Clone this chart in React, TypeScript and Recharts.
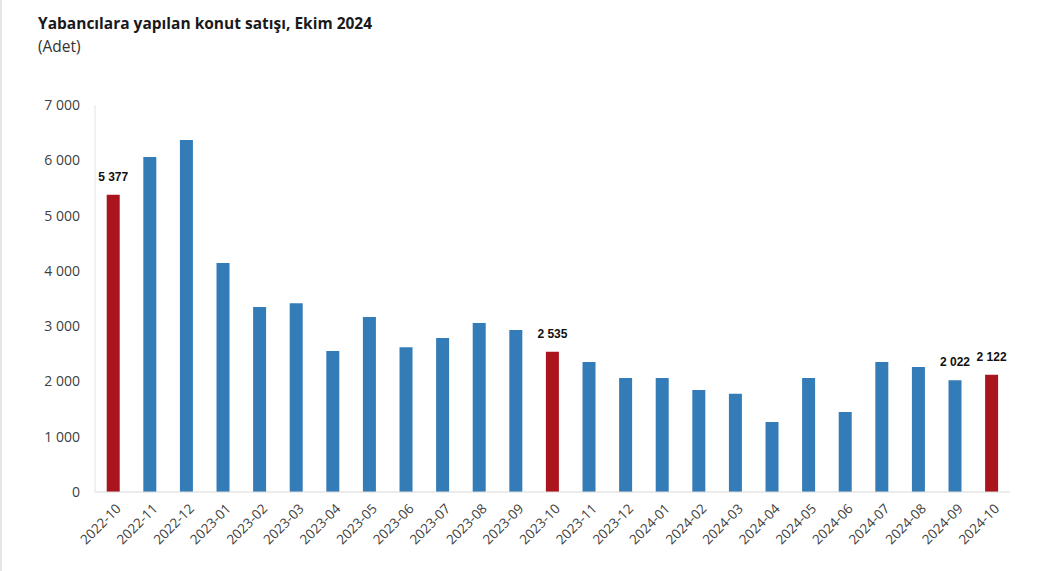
import React from 'react'
import { BarChart, Bar, XAxis, YAxis, Cell, LabelList } from 'recharts'

const months = [
  '2022-10', '2022-11', '2022-12', '2023-01', '2023-02', '2023-03', '2023-04', '2023-05', '2023-06',
  '2023-07', '2023-08', '2023-09', '2023-10', '2023-11', '2023-12', '2024-01', '2024-02', '2024-03',
  '2024-04', '2024-05', '2024-06', '2024-07', '2024-08', '2024-09', '2024-10',
]
const sales = [
  5377, 6060, 6365, 4140, 3345, 3415, 2550, 3165, 2620,
  2785, 3055, 2930, 2535, 2350, 2060, 2060, 1845, 1775,
  1265, 2060, 1445, 2350, 2260, 2022, 2122,
]
const labelled = ['2022-10', '2023-10', '2024-09', '2024-10']
const yTicks = [0, 1000, 2000, 3000, 4000, 5000, 6000, 7000]

const BLUE = '#337cb8'
const RED = '#aa141c'

const data = months.map((m, i) => ({ month: m, value: sales[i] }))

const fmt = (v: number) => String(v).replace(/\B(?=(\d{3})+(?!\d))/g, ' ')

const XTick = ({ x, y, payload }: any) => (
  <text
    x={x + 5}
    y={y + 6}
    transform={`rotate(-45 ${x + 5} ${y + 6})`}
    textAnchor="end"
    dominantBaseline="central"
    fontSize={13.5}
    fill="#404040"
    fontFamily="'Open Sans', sans-serif"
  >
    {payload.value}
  </text>
)

const renderLabel = (props: any) => {
  const { x, y, width, value, index } = props
  if (!labelled.includes(months[index])) return null
  return (
    <text
      x={x + width / 2}
      y={y - 14}
      textAnchor="middle"
      fontSize={12}
      fontWeight={700}
      fill="#111"
      fontFamily="'Liberation Sans', Arial, sans-serif"
    >
      {fmt(value)}
    </text>
  )
}

export default function App() {
  return (
    <div style={{ position: 'relative', width: 1029, height: 563, fontFamily: "'Open Sans', sans-serif" }}>
      <div style={{ position: 'fixed', left: 0, top: 0, width: 2, height: 571, background: '#e6e6e6' }} />
      <div style={{ position: 'absolute', left: 30, top: 4, fontSize: 15.5, fontWeight: 700, color: '#1a1a1a', whiteSpace: 'nowrap' }}>
        Yabancılara yapılan konut satışı, Ekim 2024
      </div>
      <div style={{ position: 'absolute', left: 30, top: 27, fontSize: 15.5, color: '#333' }}>(Adet)</div>
      <BarChart width={1029} height={563} data={data} margin={{ top: 97, right: 27, bottom: 9, left: 27 }} barCategoryGap="32%">
        <XAxis
          dataKey="month"
          interval={0}
          tick={<XTick />}
          tickLine={false}
          axisLine={{ stroke: '#d9d9d9' }}
          height={70}
        />
        <YAxis
          domain={[0, 7000]}
          ticks={yTicks}
          tickFormatter={fmt}
          tickLine={false}
          axisLine={{ stroke: '#e3e3e3' }}
          width={60}
          tick={{ fontSize: 14, fill: '#404040', fontFamily: "'Open Sans', sans-serif" }}
          tickMargin={9}
        />
        <Bar dataKey="value" isAnimationActive={false}>
          {data.map((d) => (
            <Cell key={d.month} fill={d.month.endsWith('-10') ? RED : BLUE} />
          ))}
          <LabelList dataKey="value" content={renderLabel} />
        </Bar>
      </BarChart>
    </div>
  )
}
